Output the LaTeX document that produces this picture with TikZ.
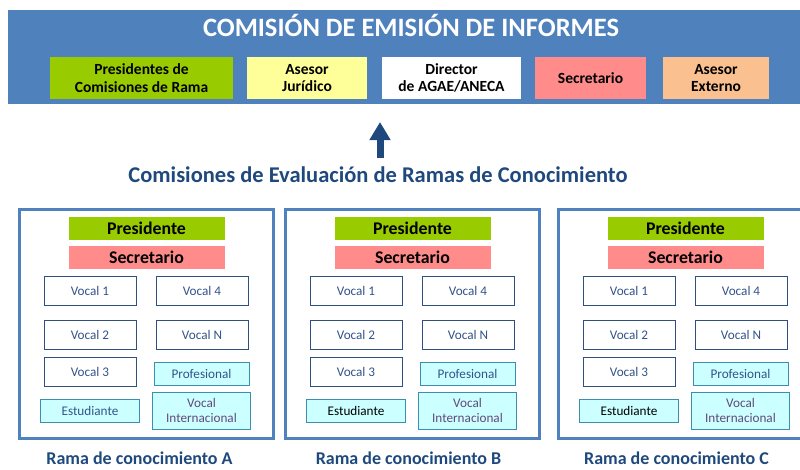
\documentclass[tikz,border=0pt]{standalone}
\usepackage{fontspec}
\setmainfont{Carlito}
\usetikzlibrary{positioning,arrows.meta}
\definecolor{bannerblue}{HTML}{4F81BD}
\definecolor{presgreen}{HTML}{99CC00}
\definecolor{asesoryellow}{HTML}{FFFF99}
\definecolor{secpink}{HTML}{FF8B8B}
\definecolor{asesororange}{HTML}{FAC090}
\definecolor{cianfill}{HTML}{CCFFFF}
\definecolor{cianline}{HTML}{3C8DAE}
\definecolor{vocalline}{HTML}{2F4F7F}
\definecolor{vocaltext}{HTML}{34548A}
\definecolor{darkblue}{HTML}{1F497D}
\definecolor{inttext}{HTML}{604A7B}
\tikzstyle{banner} = [rectangle, fill=bannerblue, inner sep=0pt, outer sep=0pt,
    minimum width=792pt, minimum height=94pt]
\tikzstyle{titulo} = [text=white, font=\bfseries\fontsize{26.5}{28}\selectfont]
\tikzstyle{junta} = [rectangle, inner sep=0pt, outer sep=0pt, align=center,
    minimum height=42pt, font=\bfseries\fontsize{15.5}{17.5}\selectfont]
\tikzstyle{subtitulo} = [text=darkblue, font=\bfseries\fontsize{22.5}{24}\selectfont]
\tikzstyle{flecha} = [darkblue, line width=7pt, -{Triangle[width=20pt,length=18pt]}]
\tikzstyle{rama} = [rectangle, draw=bannerblue, line width=3pt,
    minimum width=254pt, minimum height=229pt]
\tikzstyle{cargo} = [rectangle, inner sep=0pt, outer sep=0pt, minimum width=156pt,
    minimum height=23pt, font=\bfseries\fontsize{17.8}{19}\selectfont]
\tikzstyle{vocal} = [rectangle, draw=vocalline, fill=white, line width=1pt, inner sep=0pt,
    outer sep=0pt, minimum width=92pt, minimum height=29pt, text=vocaltext,
    font=\fontsize{13.2}{14.5}\selectfont]
\tikzstyle{extra} = [rectangle, draw=cianline, fill=cianfill, line width=1pt, inner sep=0pt,
    outer sep=0pt, align=center, text=vocaltext, font=\fontsize{13.2}{14.5}\selectfont]
\tikzstyle{ramalabel} = [text=darkblue, font=\bfseries\fontsize{18}{20}\selectfont]

\begin{document}
\begin{tikzpicture}[x=1pt, y=-1pt]
    \useasboundingbox (0,0) rectangle (800,469);

    % comision de emision de informes
    \node[banner] (comision) at (404,57) {};
    \node[titulo] (tituloCEI) at (411,25) {COMISIÓN DE EMISIÓN DE INFORMES};
    \node[junta, fill=presgreen, minimum width=183pt] (presRama) at (141.5,78) {Presidentes de\\Comisiones de Rama};
    \node[junta, fill=asesoryellow, minimum width=120pt, right=14pt of presRama] (asesorJur) {Asesor\\Jurídico};
    \node[junta, fill=white, minimum width=139pt, right=15pt of asesorJur] (director) {Director\\de AGAE/ANECA};
    \node[junta, fill=secpink, minimum width=111pt, right=14pt of director] (secCEI) {Secretario};
    \node[junta, fill=asesororange, minimum width=106pt, right=17pt of secCEI] (asesorExt) {Asesor\\Externo};

    \node[subtitulo] (comisiones) at (378,175) {Comisiones de Evaluación de Ramas de Conocimiento};
    \coordinate (flechaBase) at (380,158);
    \coordinate (flechaPunta) at (380,122);
    \draw[flecha] (flechaBase) -- (flechaPunta);

    % rama A
    \node[rama] (ramaA) at (146.5,324) {};
    \node[cargo, fill=presgreen, below=9pt of ramaA.north] (presA) {Presidente};
    \node[cargo, fill=secpink, below=6pt of presA] (secA) {Secretario};
    \node[vocal, below=7pt of secA, xshift=-56.5pt] (v1A) {Vocal 1};
    \node[vocal, right=20pt of v1A] (v4A) {Vocal 4};
    \node[vocal, below=15pt of v1A] (v2A) {Vocal 2};
    \node[vocal, right=20pt of v2A] (vNA) {Vocal N};
    \node[vocal, below=8pt of v2A] (v3A) {Vocal 3};
    \node[extra, minimum width=95pt, minimum height=23pt, right=18pt of v3A, yshift=-2pt] (profA) {Profesional};
    \node[extra, minimum width=99pt, minimum height=23pt, below=13pt of v3A] (estA) {Estudiante};
    \node[extra, minimum width=98pt, minimum height=37pt, below=7pt of profA, text=inttext] (vintA) {Vocal\\Internacional};
    \node[ramalabel, below=8pt of ramaA, xshift=-7pt] (labelA) {Rama de conocimiento A};

    % rama B
    \node[rama] (ramaB) at (412.5,324) {};
    \node[cargo, fill=presgreen, below=9pt of ramaB.north] (presB) {Presidente};
    \node[cargo, fill=secpink, below=6pt of presB] (secB) {Secretario};
    \node[vocal, below=7pt of secB, xshift=-56.5pt] (v1B) {Vocal 1};
    \node[vocal, right=20pt of v1B] (v4B) {Vocal 4};
    \node[vocal, below=15pt of v1B] (v2B) {Vocal 2};
    \node[vocal, right=20pt of v2B] (vNB) {Vocal N};
    \node[vocal, below=8pt of v2B] (v3B) {Vocal 3};
    \node[extra, minimum width=95pt, minimum height=23pt, right=18pt of v3B, yshift=-2pt] (profB) {Profesional};
    \node[extra, minimum width=99pt, minimum height=23pt, below=13pt of v3B, text=black] (estB) {Estudiante};
    \node[extra, minimum width=98pt, minimum height=37pt, below=7pt of profB, text=inttext] (vintB) {Vocal\\Internacional};
    \node[ramalabel, below=8pt of ramaB, xshift=-4pt] (labelB) {Rama de conocimiento B};

    % rama C
    \node[rama] (ramaC) at (685.5,324) {};
    \node[cargo, fill=presgreen, below=9pt of ramaC.north] (presC) {Presidente};
    \node[cargo, fill=secpink, below=6pt of presC] (secC) {Secretario};
    \node[vocal, below=7pt of secC, xshift=-56.5pt] (v1C) {Vocal 1};
    \node[vocal, right=20pt of v1C] (v4C) {Vocal 4};
    \node[vocal, below=15pt of v1C] (v2C) {Vocal 2};
    \node[vocal, right=20pt of v2C] (vNC) {Vocal N};
    \node[vocal, below=8pt of v2C] (v3C) {Vocal 3};
    \node[extra, minimum width=95pt, minimum height=23pt, right=18pt of v3C, yshift=-2pt] (profC) {Profesional};
    \node[extra, minimum width=99pt, minimum height=23pt, below=13pt of v3C, text=black] (estC) {Estudiante};
    \node[extra, minimum width=98pt, minimum height=37pt, below=7pt of profC, text=inttext] (vintC) {Vocal\\Internacional};
    \node[ramalabel, below=8pt of ramaC, xshift=-9pt] (labelC) {Rama de conocimiento C};
\end{tikzpicture}
\end{document}
